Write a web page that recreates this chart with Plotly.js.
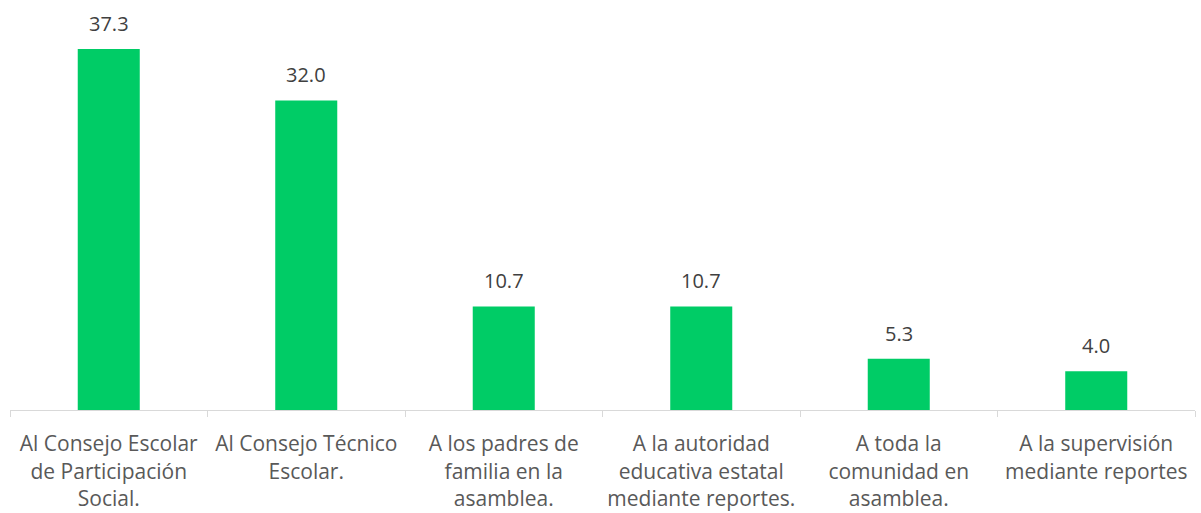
<!DOCTYPE html>
<html>
<head>
<meta charset="utf-8">
<script src="https://cdn.plot.ly/plotly-3.0.1.min.js"></script>
<style>html,body{margin:0;padding:0;background:#fff;}#chart{width:1201px;height:513px;}</style>
</head>
<body>
<div id="chart"></div>
<script>
const categories = [
  "Al Consejo Escolar<br>de Participación<br>Social.",
  "Al Consejo Técnico<br>Escolar.",
  "A los padres de<br>familia en la<br>asamblea.",
  "A la autoridad<br>educativa estatal<br>mediante reportes.",
  "A toda la<br>comunidad en<br>asamblea.",
  "A la supervisión<br>mediante reportes"
];
const values = [37.3, 32.0, 10.7, 10.7, 5.3, 4.0];

const FONT = "Open Sans, Liberation Sans, sans-serif";

const trace = {
  type: "bar",
  x: categories,
  y: values,
  marker: {color: "#00CC66"},
  width: 0.314,
  hoverinfo: "skip",
  cliponaxis: false
};

const annotations = values.map((v, i) => ({
  x: categories[i],
  y: v,
  xref: "x",
  yref: "y",
  text: v.toFixed(1),
  showarrow: false,
  yanchor: "bottom",
  yshift: 10,
  font: {family: FONT, size: 20, color: "#404040"}
}));

const layout = {
  width: 1201,
  height: 513,
  margin: {l: 10, r: 6, t: 23, b: 103},
  paper_bgcolor: "#ffffff",
  plot_bgcolor: "#ffffff",
  showlegend: false,
  xaxis: {
    type: "category",
    showline: true,
    linecolor: "#d9d9d9",
    linewidth: 1,
    ticks: "outside",
    tickson: "boundaries",
    ticklen: 6,
    tickcolor: "#d9d9d9",
    ticklabelstandoff: 15,
    tickfont: {family: FONT, size: 21, color: "#595959"},
    showgrid: false,
    zeroline: false
  },
  yaxis: {
    range: [0, 40],
    visible: false,
    showgrid: false,
    zeroline: false
  },
  annotations: annotations
};

Plotly.newPlot("chart", [trace], layout, {displayModeBar: false, staticPlot: true});
</script>
</body>
</html>
